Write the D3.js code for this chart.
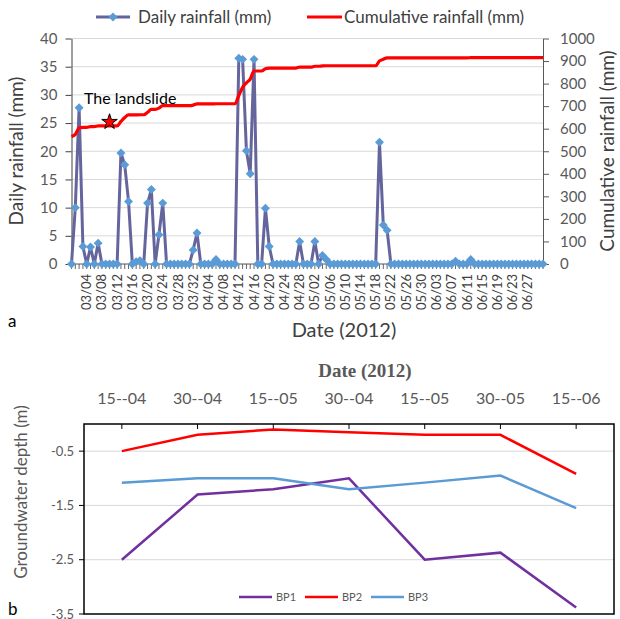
<!DOCTYPE html>
<html>
<head>
<meta charset="utf-8">
<script src="https://cdn.jsdelivr.net/npm/d3@7"></script>
<style>
  body { margin: 0; background: #fff; }
  svg { display: block; font-family: Lato, "Open Sans", sans-serif; }
</style>
</head>
<body>
<div id="chart"></div>
<script>
// daily rainfall (mm), one value per day of the record
var daily = [
  0, 10, 27.7, 3.1, 0, 3, 0, 3.7, 0, 0,
  0, 0, 0, 19.7, 17.6, 11.1, 0, 0.4, 0.6, 0,
  10.8, 13.2, 0, 5.2, 10.8, 0, 0, 0, 0, 0,
  0, 0, 2.5, 5.5, 0, 0, 0, 0, 0.8, 0,
  0, 0, 0, 0, 36.5, 36.3, 20.1, 16, 36.3, 0,
  0, 9.9, 3.1, 0, 0, 0, 0, 0, 0, 0,
  4, 0, 0, 0, 4, 0, 1.5, 0.8, 0, 0,
  0, 0, 0, 0, 0, 0, 0, 0, 0, 0,
  0, 21.6, 6.9, 6, 0, 0, 0, 0, 0, 0,
  0, 0, 0, 0, 0, 0, 0, 0, 0, 0,
  0, 0.5, 0, 0, 0, 0.8, 0, 0, 0, 0,
  0, 0, 0, 0, 0, 0, 0, 0, 0, 0,
  0, 0, 0, 0, 0
];
// cumulative rainfall (mm), secondary axis
var cumulative = [
  565, 575, 602.7, 605.8, 605.8, 608.8, 608.8, 612.5, 612.5, 612.5,
  612.5, 612.5, 612.5, 632.2, 649.8, 660.9, 660.9, 661.3, 661.9, 661.9,
  672.7, 685.9, 685.9, 691.1, 701.9, 701.9, 701.9, 701.9, 701.9, 701.9,
  701.9, 701.9, 704.4, 709.9, 709.9, 709.9, 709.9, 709.9, 710.7, 710.7,
  710.7, 710.7, 710.7, 710.7, 747.2, 783.5, 803.6, 819.6, 855.9, 855.9,
  855.9, 865.8, 868.9, 868.9, 868.9, 868.9, 868.9, 868.9, 868.9, 868.9,
  872.9, 872.9, 872.9, 872.9, 876.9, 876.9, 878.4, 879.2, 879.2, 879.2,
  879.2, 879.2, 879.2, 879.2, 879.2, 879.2, 879.2, 879.2, 879.2, 879.2,
  879.2, 900.8, 907.7, 913.7, 913.7, 913.7, 913.7, 913.7, 913.7, 913.7,
  913.7, 913.7, 913.7, 913.7, 913.7, 913.7, 913.7, 913.7, 913.7, 913.7,
  913.7, 914.2, 914.2, 914.2, 914.2, 915, 915, 915, 915, 915,
  915, 915, 915, 915, 915, 915, 915, 915, 915, 915,
  915, 915, 915, 915, 915
];
// labels shown every 4th day, starting with day 4
var dateTicks = ["03/04", "03/08", "03/12", "03/16", "03/20", "03/24", "03/28", "03/32",
  "04/04", "04/08", "04/12", "04/16", "04/20", "04/24", "04/28", "05/02", "05/06",
  "05/10", "05/14", "05/18", "05/22", "05/26", "05/30", "06/03", "06/07", "06/11",
  "06/15", "06/19", "06/23", "06/27"];
var landslide = { day: 10, value: 630 };

// groundwater depth
var gwDates = ["15--04", "30--04", "15--05", "30--04", "15--05", "30--05", "15--06"];
var bp1 = [-2.5, -1.3, -1.2, -1.0, -2.5, -2.37, -3.38];
var bp2 = [-0.5, -0.2, -0.1, -0.15, -0.2, -0.2, -0.92];
var bp3 = [-1.08, -1.0, -1.0, -1.2, -1.08, -0.95, -1.55];

var W = 620, H = 619;
var svg = d3.select("#chart").append("svg").attr("width", W).attr("height", H);

// ---------- chart a ----------
var x = d3.scaleLinear().domain([0, daily.length - 1]).range([71.5, 543]);
var yL = d3.scaleLinear().domain([0, 40]).range([264, 38.5]);
var yR = d3.scaleLinear().domain([0, 1000]).range([264, 38.5]);

var a = svg.append("g");

// gridlines
a.selectAll(".grid")
  .data(yL.ticks(8).filter(function (d) { return d > 0; }))
  .join("line")
  .attr("x1", x.range()[0]).attr("x2", x.range()[1])
  .attr("y1", function (d) { return yL(d); })
  .attr("y2", function (d) { return yL(d); })
  .attr("stroke", "#d9d9d9").attr("stroke-width", 1);

// left axis
var leftAxis = a.append("g")
  .attr("transform", "translate(" + x.range()[0] + ",0)")
  .call(d3.axisLeft(yL).ticks(8).tickSize(6).tickSizeOuter(0).tickPadding(8));
leftAxis.select(".domain").attr("stroke", "#404040");
leftAxis.selectAll(".tick line").attr("stroke", "#404040");
leftAxis.selectAll("text").attr("font-size", 15).attr("fill", "#595959")
  .style("font-family", "Lato, sans-serif");

// right axis
var rightAxis = a.append("g")
  .attr("transform", "translate(" + x.range()[1] + ",0)")
  .call(d3.axisRight(yR).ticks(10, "d").tickSize(6).tickSizeOuter(0).tickPadding(11));
rightAxis.select(".domain").attr("stroke", "#595959");
rightAxis.selectAll(".tick line").attr("stroke", "#595959");
rightAxis.selectAll("text").attr("font-size", 15).attr("fill", "#595959")
  .style("font-family", "Lato, sans-serif");

// category axis: a tick for every day, labels every 4th day
a.append("line")
  .attr("x1", x.range()[0]).attr("x2", x.range()[1])
  .attr("y1", yL(0)).attr("y2", yL(0))
  .attr("stroke", "#595959");
a.selectAll(".dtick")
  .data(daily)
  .join("line")
  .attr("x1", function (d, i) { return x(i); })
  .attr("x2", function (d, i) { return x(i); })
  .attr("y1", yL(0)).attr("y2", yL(0) + 5)
  .attr("stroke", "#404040").attr("stroke-width", 0.8);

a.selectAll(".dlabel")
  .data(dateTicks)
  .join("text")
  .attr("transform", function (d, i) {
    return "translate(" + x(4 + i * 4) + ",274) rotate(-90)";
  })
  .attr("dy", "0.35em")
  .attr("text-anchor", "end")
  .attr("font-size", 13)
  .attr("fill", "#404040")
  .text(function (d) { return d; });

// daily series
a.append("path")
  .datum(daily)
  .attr("fill", "none")
  .attr("stroke", "#65659e")
  .attr("stroke-width", 3)
  .attr("stroke-linejoin", "round")
  .attr("d", d3.line().x(function (d, i) { return x(i); }).y(function (d) { return yL(d); }));

var diamond = d3.symbol().type(d3.symbolSquare).size(40);
a.selectAll(".mk")
  .data(daily)
  .join("path")
  .attr("transform", function (d, i) {
    return "translate(" + x(i) + "," + yL(d) + ") rotate(45)";
  })
  .attr("d", diamond)
  .attr("fill", "#5b9bd5");

// cumulative series
a.append("path")
  .datum(cumulative)
  .attr("fill", "none")
  .attr("stroke", "#ff0000")
  .attr("stroke-width", 3.2)
  .attr("d", d3.line().curve(d3.curveMonotoneX)
    .x(function (d, i) { return x(i); }).y(function (d) { return yR(d); }));

// landslide marker
a.append("path")
  .attr("transform", "translate(" + x(landslide.day) + "," + yR(landslide.value) + ")")
  .attr("d", d3.symbol().type(d3.symbolStar).size(75))
  .attr("fill", "#ff0000").attr("stroke", "#000").attr("stroke-width", 1);
a.append("text")
  .attr("x", 84).attr("y", 104)
  .attr("font-size", 16).attr("fill", "#000")
  .text("The landslide");

// titles
a.append("text")
  .attr("transform", "translate(23,151) rotate(-90)")
  .attr("text-anchor", "middle")
  .attr("font-size", 19).attr("fill", "#404040")
  .text("Daily rainfall (mm)");
a.append("text")
  .attr("transform", "translate(614,151) rotate(-90)")
  .attr("text-anchor", "middle")
  .attr("font-size", 19).attr("fill", "#404040")
  .text("Cumulative rainfall (mm)");
a.append("text")
  .attr("x", 344).attr("y", 337)
  .attr("text-anchor", "middle")
  .attr("font-size", 20).attr("fill", "#404040")
  .text("Date (2012)");
a.append("text")
  .attr("x", 8).attr("y", 327)
  .attr("font-size", 17).attr("fill", "#000")
  .text("a");

// legend
var lg = a.append("g");
lg.append("line").attr("x1", 96).attr("x2", 130).attr("y1", 17).attr("y2", 17)
  .attr("stroke", "#65659e").attr("stroke-width", 3);
lg.append("path").attr("transform", "translate(113,17) rotate(45)")
  .attr("d", diamond).attr("fill", "#5b9bd5");
lg.append("text").attr("x", 138).attr("y", 23)
  .attr("font-size", 17).attr("fill", "#404040").text("Daily rainfall (mm)");
lg.append("line").attr("x1", 307).attr("x2", 342).attr("y1", 17).attr("y2", 17)
  .attr("stroke", "#ff0000").attr("stroke-width", 3);
lg.append("text").attr("x", 344).attr("y", 23)
  .attr("font-size", 17).attr("fill", "#404040").text("Cumulative rainfall (mm)");

// ---------- chart b ----------
var xb = d3.scaleBand().domain(d3.range(gwDates.length)).range([84, 614]);
var yb = d3.scaleLinear().domain([0, -3.5]).range([424, 614]);
var bTicks = [-0.5, -1.5, -2.5, -3.5];
var b = svg.append("g");

b.selectAll(".bgrid")
  .data(bTicks.slice(0, 3))
  .join("line")
  .attr("x1", 84).attr("x2", 614)
  .attr("y1", function (d) { return yb(d); })
  .attr("y2", function (d) { return yb(d); })
  .attr("stroke", "#d9d9d9");

b.append("rect")
  .attr("x", 84).attr("y", 424)
  .attr("width", 530).attr("height", 190)
  .attr("fill", "none").attr("stroke", "#000").attr("stroke-width", 1.5);

// top category ticks (inside)
b.selectAll(".btick")
  .data(gwDates)
  .join("line")
  .attr("x1", function (d, i) { return xb(i) + xb.bandwidth() / 2; })
  .attr("x2", function (d, i) { return xb(i) + xb.bandwidth() / 2; })
  .attr("y1", 424).attr("y2", 429)
  .attr("stroke", "#000");
b.selectAll(".blabel")
  .data(gwDates)
  .join("text")
  .attr("x", function (d, i) { return xb(i) + xb.bandwidth() / 2; })
  .attr("y", 404)
  .attr("text-anchor", "middle")
  .attr("font-size", 16).attr("fill", "#595959")
  .text(function (d) { return d; });

// left ticks
b.selectAll(".bytick")
  .data(bTicks)
  .join("line")
  .attr("x1", 79).attr("x2", 84)
  .attr("y1", function (d) { return yb(d); })
  .attr("y2", function (d) { return yb(d); })
  .attr("stroke", "#000");
b.selectAll(".bylabel")
  .data(bTicks)
  .join("text")
  .attr("x", 74)
  .attr("y", function (d) { return yb(d); })
  .attr("dy", "0.35em")
  .attr("text-anchor", "end")
  .attr("font-size", 13).attr("fill", "#595959")
  .text(function (d) { return d; });

var series = [
  { name: "BP1", values: bp1, color: "#7030a0" },
  { name: "BP2", values: bp2, color: "#ff0000" },
  { name: "BP3", values: bp3, color: "#5b9bd5" }
];
var bline = d3.line()
  .x(function (d, i) { return xb(i) + xb.bandwidth() / 2; })
  .y(function (d) { return yb(d); });
b.selectAll(".bser")
  .data(series)
  .join("path")
  .attr("fill", "none")
  .attr("stroke", function (d) { return d.color; })
  .attr("stroke-width", 2.5)
  .attr("d", function (d) { return bline(d.values); });

// legend b
var lgb = b.selectAll(".lgb")
  .data(series)
  .join("g")
  .attr("transform", function (d, i) { return "translate(" + (239 + i * 66) + ",597)"; });
lgb.append("line").attr("x1", 0).attr("x2", 33).attr("y1", 0).attr("y2", 0)
  .attr("stroke", function (d) { return d.color; }).attr("stroke-width", 2.5);
lgb.append("text").attr("x", 37).attr("y", 4)
  .attr("font-size", 11).attr("fill", "#595959")
  .text(function (d) { return d.name; });

b.append("text")
  .attr("x", 365).attr("y", 377)
  .attr("text-anchor", "middle")
  .style("font-family", "'Liberation Serif', 'Times New Roman', serif")
  .attr("font-weight", "bold")
  .attr("font-size", 19).attr("fill", "#595959")
  .text("Date (2012)");
b.append("text")
  .attr("transform", "translate(27,492) rotate(-90)")
  .attr("text-anchor", "middle")
  .attr("font-size", 17).attr("fill", "#595959")
  .text("Groundwater depth (m)");
b.append("text")
  .attr("x", 8).attr("y", 615)
  .attr("font-size", 17).attr("fill", "#000")
  .text("b");
</script>
</body>
</html>
